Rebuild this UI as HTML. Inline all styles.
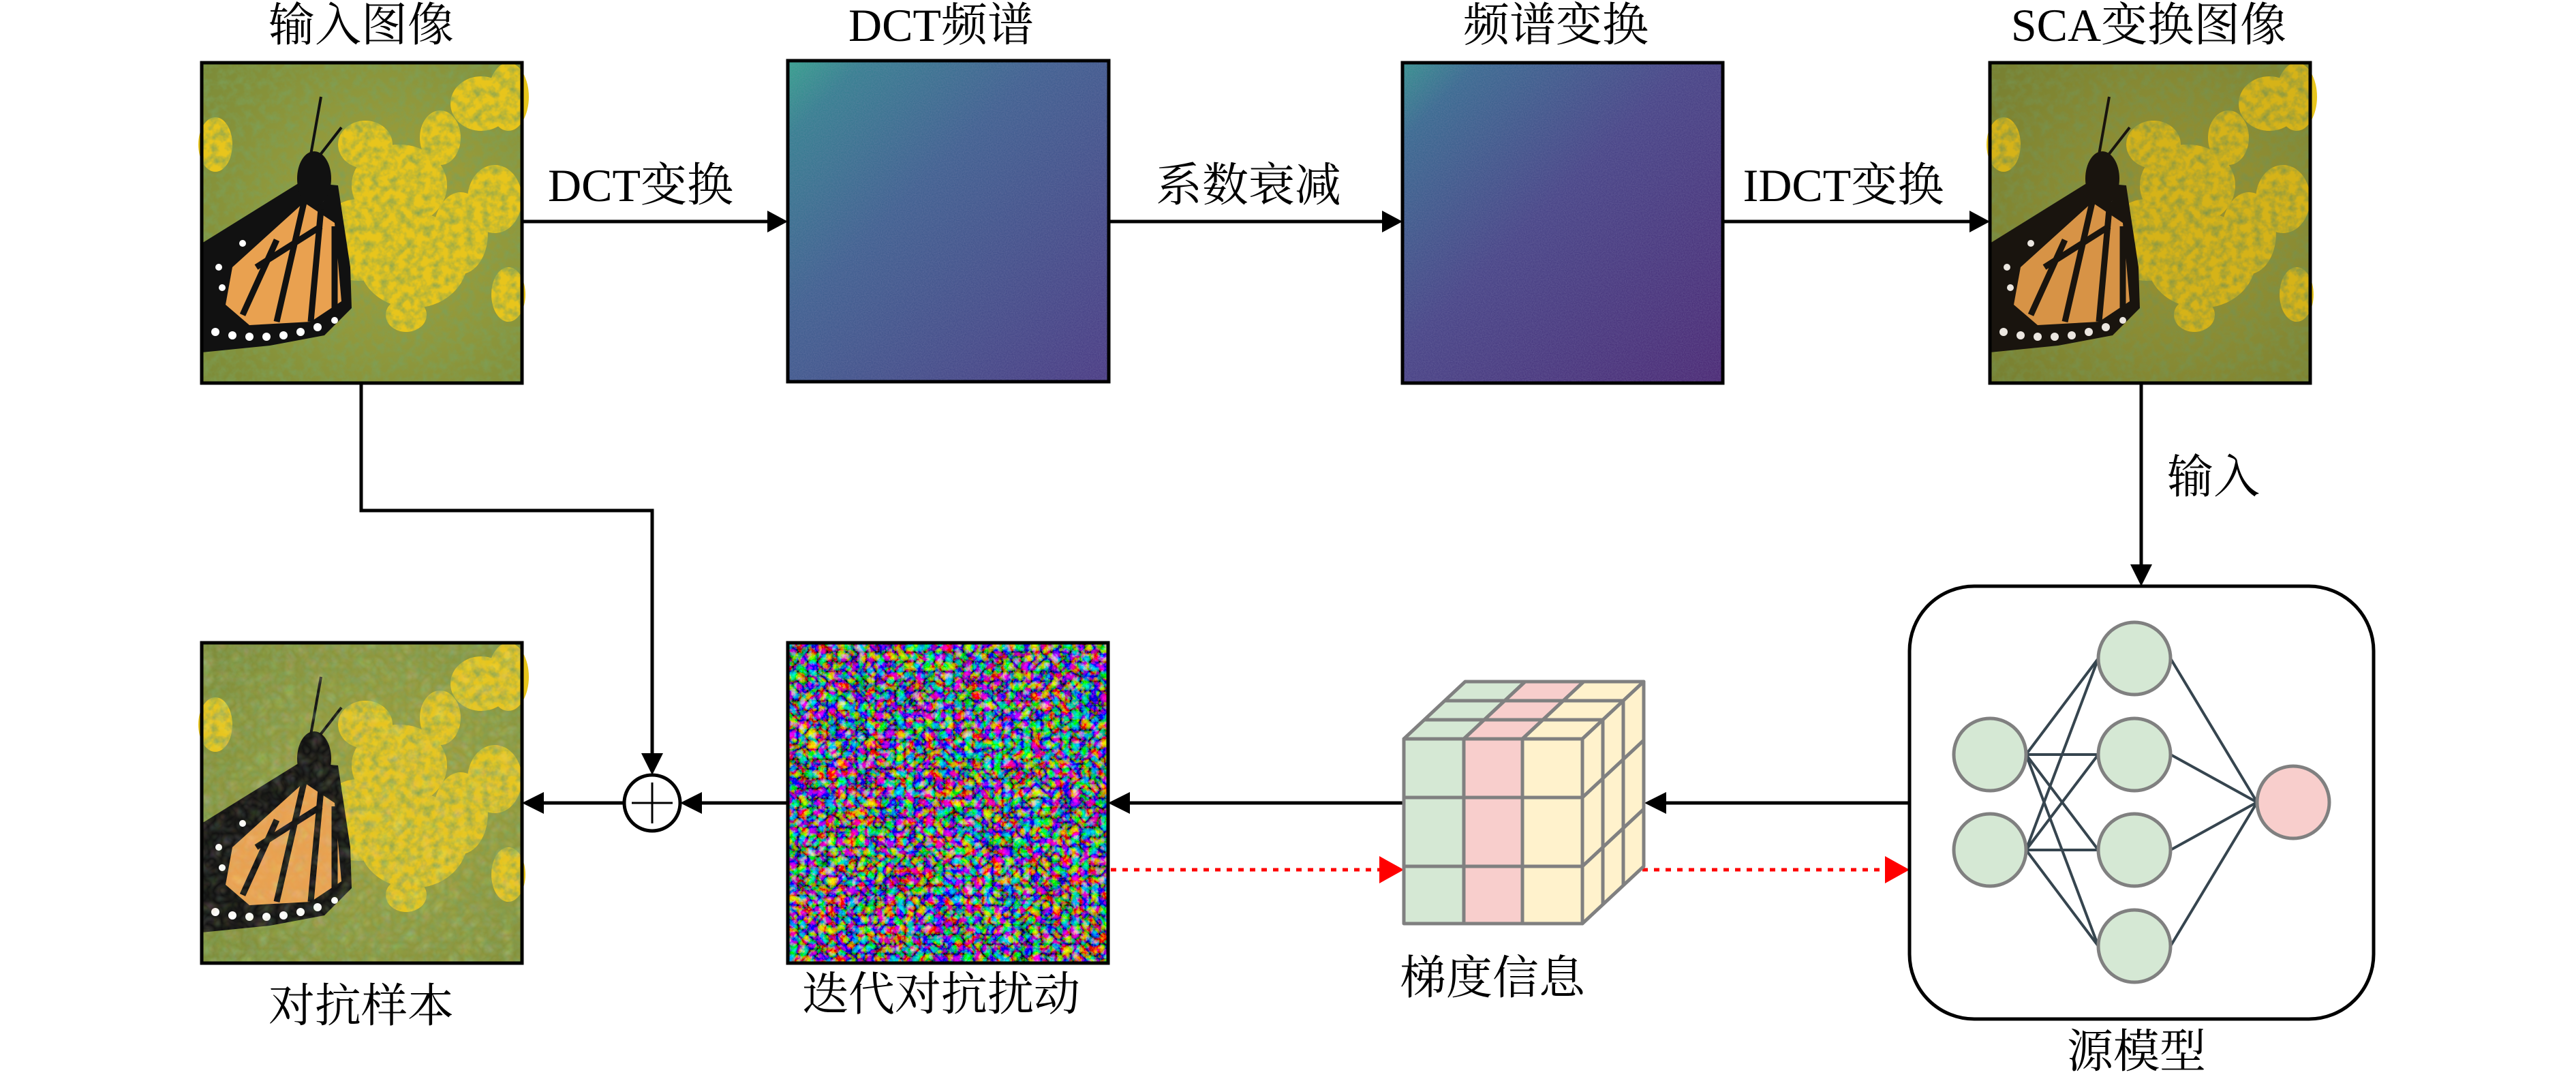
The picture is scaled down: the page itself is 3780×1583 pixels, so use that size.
<!DOCTYPE html>
<html><head><meta charset="utf-8"><style>
html,body{margin:0;padding:0;background:#fff;}
svg{display:block;}
text{font-family:"Liberation Serif","Noto Serif CJK SC",serif;fill:#000;}
</style></head><body>
<svg width="3780" height="1583" viewBox="0 0 3780 1583" xmlns="http://www.w3.org/2000/svg">
<defs>
<filter id="grain" x="0" y="0" width="100%" height="100%">
<feTurbulence type="fractalNoise" baseFrequency="0.6" numOctaves="2" seed="3" result="n"/>
<feColorMatrix in="n" type="matrix" values="0 0 0 0 0.3  0 0 0 0 0.3  0 0 0 0 0.5  0 0 0 0.35 0"/>
</filter>
<filter id="noise" x="0" y="0" width="100%" height="100%">
<feTurbulence type="turbulence" baseFrequency="0.07" numOctaves="3" seed="7" result="t"/>
<feColorMatrix in="t" type="matrix" values="2.2 -0.8 0 0 -0.2  0 2.0 -0.8 0 -0.15  -0.8 0 2.2 0 -0.15  0 0 0 0 1"/>
</filter>
<filter id="flw" x="0" y="0" width="100%" height="100%">
<feTurbulence type="fractalNoise" baseFrequency="0.08" numOctaves="3" seed="5" result="t"/>
<feColorMatrix in="t" type="matrix" values="0 0 0 0 0.2  0 0 0 0 0.35  0 0 0 0 0.1  0 0 0 -1.6 1.0"/>
</filter>
<filter id="advn" x="0" y="0" width="100%" height="100%">
<feTurbulence type="turbulence" baseFrequency="0.05" numOctaves="2" seed="11" result="t"/>
<feColorMatrix in="t" type="matrix" values="1 0 0 0 0.3  0 1 0 0 0.35  0 0 1 0 0.1  0 0 0 0.35 0"/>
</filter>
<linearGradient id="dct" x1="0" y1="0" x2="1" y2="1">
<stop offset="0" stop-color="#2fa58a"/><stop offset="0.12" stop-color="#2f7f8e"/>
<stop offset="0.4" stop-color="#3a5d8e"/><stop offset="1" stop-color="#453480"/>
</linearGradient>
<linearGradient id="spec" x1="0" y1="0" x2="1" y2="1">
<stop offset="0" stop-color="#2f948c"/><stop offset="0.12" stop-color="#33688e"/>
<stop offset="0.45" stop-color="#433f84"/><stop offset="1" stop-color="#46206f"/>
</linearGradient>
<radialGradient id="bg" cx="0.6" cy="0.5" r="0.8">
<stop offset="0" stop-color="#a8a035"/><stop offset="0.5" stop-color="#8f983c"/><stop offset="1" stop-color="#7a8a38"/>
</radialGradient>
<g id="bfly">
<rect x="0" y="0" width="470" height="470" fill="url(#bg)"/>
<g fill="#e8c51c">
<ellipse cx="290" cy="180" rx="70" ry="60"/><ellipse cx="240" cy="120" rx="40" ry="35"/>
<ellipse cx="310" cy="290" rx="80" ry="70"/><ellipse cx="230" cy="260" rx="60" ry="60"/>
<ellipse cx="410" cy="60" rx="45" ry="40"/><ellipse cx="450" cy="50" rx="30" ry="50"/>
<ellipse cx="430" cy="200" rx="40" ry="50"/><ellipse cx="450" cy="340" rx="25" ry="40"/>
<ellipse cx="300" cy="370" rx="30" ry="25"/><ellipse cx="20" cy="120" rx="25" ry="40"/>
<ellipse cx="350" cy="110" rx="30" ry="40"/><ellipse cx="380" cy="250" rx="40" ry="60"/>
</g>
<rect x="0" y="0" width="470" height="470" filter="url(#flw)"/>
<polygon points="0,265 145,175 200,180 218,300 220,360 180,400 100,415 0,425" fill="#111"/>
<polygon points="45,300 150,205 195,235 205,350 160,380 70,385 35,355" fill="#e9a150"/>
<g stroke="#111" stroke-width="9" fill="none">
<path d="M150,205 L110,380"/><path d="M175,215 L160,380"/><path d="M110,260 L60,370"/><path d="M80,300 L175,240"/><path d="M195,240 L195,370"/>
</g>
<g fill="#fff">
<circle cx="20" cy="395" r="6"/><circle cx="45" cy="400" r="6"/><circle cx="70" cy="402" r="6"/><circle cx="95" cy="402" r="6"/><circle cx="120" cy="400" r="6"/><circle cx="145" cy="395" r="6"/><circle cx="170" cy="388" r="6"/><circle cx="195" cy="378" r="5"/><circle cx="30" cy="330" r="5"/><circle cx="25" cy="300" r="5"/><circle cx="60" cy="265" r="5"/><circle cx="160" cy="180" r="5"/><circle cx="175" cy="200" r="5"/>
</g>
<ellipse cx="165" cy="170" rx="25" ry="40" fill="#111"/>
<path d="M160,135 L175,50 M170,140 L205,95" stroke="#111" stroke-width="4" fill="none"/>
</g>
</defs>

<g font-size="68" text-anchor="middle">
<text x="530" y="60">输入图像</text>
<text x="1381" y="60">DCT频谱</text>
<text x="2283" y="60">频谱变换</text>
<text x="3153" y="60">SCA变换图像</text>
<text x="940" y="295">DCT变换</text>
<text x="1832" y="295">系数衰减</text>
<text x="2705" y="295">IDCT变换</text>
<text x="3248" y="723">输入</text>
<text x="530" y="1499">对抗样本</text>
<text x="1381" y="1482">迭代对抗扰动</text>
<text x="2190" y="1458">梯度信息</text>
<text x="3135" y="1566">源模型</text>
</g>

<g transform="translate(296,92)"><use href="#bfly"/></g>
<rect x="296" y="92" width="470" height="470" fill="none" stroke="#000" stroke-width="5"/>
<rect x="1156" y="89" width="471" height="471" fill="url(#dct)"/>
<rect x="1156" y="89" width="471" height="471" filter="url(#grain)"/>
<rect x="1156" y="89" width="471" height="471" fill="none" stroke="#000" stroke-width="5"/>
<rect x="2058" y="92" width="470" height="470" fill="url(#spec)"/>
<rect x="2058" y="92" width="470" height="470" filter="url(#grain)"/>
<rect x="2058" y="92" width="470" height="470" fill="none" stroke="#000" stroke-width="5"/>
<g transform="translate(2920,92)"><use href="#bfly"/><rect width="470" height="470" fill="#5a3000" opacity="0.12"/></g>
<rect x="2920" y="92" width="470" height="470" fill="none" stroke="#000" stroke-width="5"/>

<g transform="translate(296,943)"><use href="#bfly"/><rect width="470" height="470" filter="url(#advn)"/></g>
<rect x="296" y="943" width="470" height="470" fill="none" stroke="#000" stroke-width="5"/>
<rect x="1156" y="943" width="470" height="470" filter="url(#noise)"/>
<rect x="1156" y="943" width="470" height="470" fill="none" stroke="#000" stroke-width="5"/>

<g stroke="#000" stroke-width="5" fill="none">
<line x1="766" y1="325" x2="1130" y2="325"/>
<line x1="1627" y1="325" x2="2032" y2="325"/>
<line x1="2528" y1="325" x2="2894" y2="325"/>
<polyline points="530,562 530,749 957,749 957,1110"/>
<line x1="3142" y1="562" x2="3142" y2="832"/>
<line x1="2802" y1="1178" x2="2440" y2="1178"/>
<line x1="2060" y1="1178" x2="1652" y2="1178"/>
<line x1="1156" y1="1178" x2="1025" y2="1178"/>
<line x1="916" y1="1178" x2="792" y2="1178"/>
<circle cx="957" cy="1178" r="41"/>
<line x1="957" y1="1148" x2="957" y2="1208" stroke-width="3"/>
<line x1="927" y1="1178" x2="987" y2="1178" stroke-width="3"/>
</g>
<g fill="#000">
<polygon points="1156,325 1126,309 1126,341"/>
<polygon points="2058,325 2028,309 2028,341"/>
<polygon points="2920,325 2890,309 2890,341"/>
<polygon points="957,1137 941,1105 973,1105"/>
<polygon points="3142,860 3126,828 3158,828"/>
<polygon points="2413,1178 2445,1162 2445,1194"/>
<polygon points="1626,1178 1658,1162 1658,1194"/>
<polygon points="998,1178 1030,1162 1030,1194"/>
<polygon points="766,1178 798,1162 798,1194"/>
</g>

<g stroke="#f00" stroke-width="5" stroke-dasharray="8,9" fill="none">
<line x1="1630" y1="1276" x2="2035" y2="1276"/>
<line x1="2410" y1="1276" x2="2780" y2="1276"/>
</g>
<g fill="#f00">
<polygon points="2060,1276 2024,1256 2024,1296"/>
<polygon points="2802,1276 2766,1256 2766,1296"/>
</g>

<g stroke="#808080" stroke-width="5" stroke-linejoin="round">
<polygon points="2060,1084 2148,1084 2178,1056 2208,1028 2238,1000 2150,1000" fill="#d5e8d4"/>
<polygon points="2148,1084 2234,1084 2324,1000 2238,1000" fill="#f8cecc"/>
<polygon points="2234,1084 2322,1084 2412,1000 2324,1000" fill="#fff2cc"/>
<line x1="2090" y1="1056" x2="2352" y2="1056"/>
<line x1="2120" y1="1028" x2="2382" y2="1028"/>
<polygon points="2322,1084 2412,1000 2412,1271 2322,1355" fill="#fff2cc"/>
<line x1="2352" y1="1056" x2="2352" y2="1327"/>
<line x1="2382" y1="1028" x2="2382" y2="1299"/>
<line x1="2322" y1="1170" x2="2412" y2="1086"/>
<line x1="2322" y1="1271" x2="2412" y2="1187"/>
<rect x="2060" y="1084" width="88" height="271" fill="#d5e8d4"/>
<rect x="2148" y="1084" width="86" height="271" fill="#f8cecc"/>
<rect x="2234" y="1084" width="88" height="271" fill="#fff2cc"/>
<line x1="2060" y1="1170" x2="2322" y2="1170"/>
<line x1="2060" y1="1271" x2="2322" y2="1271"/>
</g>

<rect x="2802" y="860" width="681" height="635" rx="95" ry="95" fill="none" stroke="#000" stroke-width="5"/>
<g stroke="#36454f" stroke-width="4">
<line x1="2973" y1="1107" x2="3079" y2="966"/><line x1="2973" y1="1107" x2="3079" y2="1107"/><line x1="2973" y1="1107" x2="3079" y2="1247"/><line x1="2973" y1="1107" x2="3079" y2="1388"/>
<line x1="2973" y1="1247" x2="3079" y2="966"/><line x1="2973" y1="1247" x2="3079" y2="1107"/><line x1="2973" y1="1247" x2="3079" y2="1247"/><line x1="2973" y1="1247" x2="3079" y2="1388"/>
<line x1="3185" y1="966" x2="3312" y2="1177"/><line x1="3185" y1="1107" x2="3312" y2="1177"/><line x1="3185" y1="1247" x2="3312" y2="1177"/><line x1="3185" y1="1388" x2="3312" y2="1177"/>
</g>
<g stroke="#808080" stroke-width="5" fill="#d5e8d4">
<circle cx="2920" cy="1107" r="53"/><circle cx="2920" cy="1247" r="53"/>
<circle cx="3132" cy="966" r="53"/><circle cx="3132" cy="1107" r="53"/><circle cx="3132" cy="1247" r="53"/><circle cx="3132" cy="1388" r="53"/>
<circle cx="3365" cy="1177" r="53" fill="#f8cecc"/>
</g>
</svg>
</body></html>
